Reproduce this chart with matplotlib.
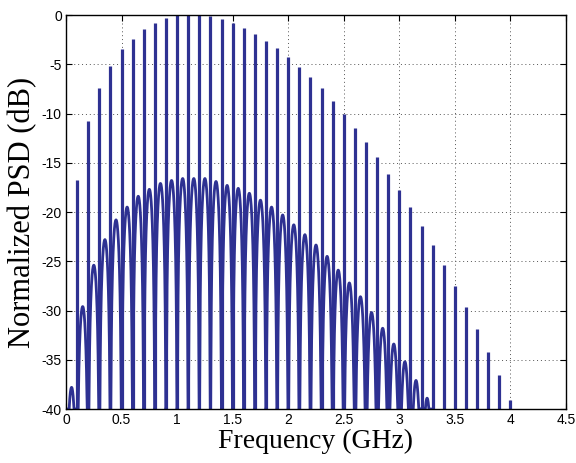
import numpy as np
import matplotlib
matplotlib.use("Agg")
import matplotlib.pyplot as plt

# ---- data ----
# spectral line frequencies (GHz) and their peak levels (dB)
line_freq = [0.1, 0.2, 0.3, 0.4, 0.5, 0.6, 0.7, 0.8, 0.9, 1.0,
             1.1, 1.2, 1.3, 1.4, 1.5, 1.6, 1.7, 1.8, 1.9, 2.0,
             2.1, 2.2, 2.3, 2.4, 2.5, 2.6, 2.7, 2.8, 2.9, 3.0,
             3.1, 3.2, 3.3, 3.4, 3.5, 3.6, 3.7, 3.8, 3.9, 4.0]
line_db = [-16.7, -10.8, -7.45, -5.2, -3.5, -2.4, -1.45, -0.8, -0.35, 0.0,
           0.0, 0.0, -0.1, -0.44, -0.8, -1.3, -1.9, -2.6, -3.4, -4.3,
           -5.25, -6.3, -7.45, -8.7, -10.0, -11.45, -12.9, -14.4, -16.1, -17.8,
           -19.5, -21.4, -23.35, -25.4, -27.5, -29.6, -31.9, -34.2, -36.55, -39.1]

# continuous-spectrum lobes: each lobe spans one gap between lines
lobe_start = [0.0, 0.1, 0.2, 0.3, 0.4, 0.5, 0.6, 0.7, 0.8, 0.9, 1.0,
              1.1, 1.2, 1.3, 1.4, 1.5, 1.6, 1.7, 1.8, 1.9, 2.0,
              2.1, 2.2, 2.3, 2.4, 2.5, 2.6, 2.7, 2.8, 2.9, 3.0,
              3.1, 3.2]
lobe_peak_db = [-37.8, -29.6, -25.4, -22.8, -20.8, -19.5, -18.4, -17.7, -17.1, -16.8, -16.6,
                -16.6, -16.6, -16.9, -17.3, -17.6, -18.1, -18.8, -19.5, -20.3, -21.3,
                -22.3, -23.35, -24.5, -25.9, -27.2, -28.6, -30.2, -31.8, -33.4, -35.2,
                -37.1, -38.9]

xticks = [0, 0.5, 1, 1.5, 2, 2.5, 3, 3.5, 4, 4.5]
xticklabels = ["0", "0.5", "1", "1.5", "2", "2.5", "3", "3.5", "4", "4.5"]
yticks = [-40, -35, -30, -25, -20, -15, -10, -5, 0]
yticklabels = ["-40", "-35", "-30", "-25", "-20", "-15", "-10", "-5", "0"]

color = "#2E3192"
ymin = -40.0

fig = plt.figure(figsize=(5.76, 4.63), dpi=100)
ax = fig.add_axes([0.1146, 0.1166, 0.868, 0.851])

# lobes: drawn with a smooth lobe profile between neighbouring lines
width = 0.1
u = np.linspace(0.0, 1.0, 160)
profile = np.sin(np.pi * u) ** 2
for s, p in zip(lobe_start, lobe_peak_db):
    xs = s + u * width
    ys = p + 10 * np.log10(np.maximum(profile, 1e-12))
    ys = np.maximum(ys, ymin)
    ax.plot(xs, ys, color=color, lw=2.0, solid_joinstyle="round")

# spectral lines
ax.vlines(line_freq, ymin, line_db, color=color, lw=2.3)

ax.set_xlim(0, 4.5)
ax.set_ylim(-40, 0)
ax.set_xticks(xticks)
ax.set_xticklabels(xticklabels)
ax.set_yticks(yticks)
ax.set_yticklabels(yticklabels)

for lab in ax.get_xticklabels() + ax.get_yticklabels():
    lab.set_fontfamily(["Liberation Sans", "DejaVu Sans"])
    lab.set_fontsize(10)

ax.tick_params(direction="in", top=True, right=True, length=4, width=0.8, pad=3)
ax.grid(True, linestyle=(0, (1, 3)), color="#555555", lw=0.7)
for sp in ax.spines.values():
    sp.set_linewidth(1.0)
    sp.set_zorder(5)

ax.set_xlabel("Frequency (GHz)", family=["Liberation Serif", "DejaVu Serif"],
              fontsize=20, labelpad=1)
ax.set_ylabel("Normalized PSD (dB)", family=["Liberation Serif", "DejaVu Serif"],
              fontsize=22, labelpad=3)

fig.savefig("out.png", dpi=100)
